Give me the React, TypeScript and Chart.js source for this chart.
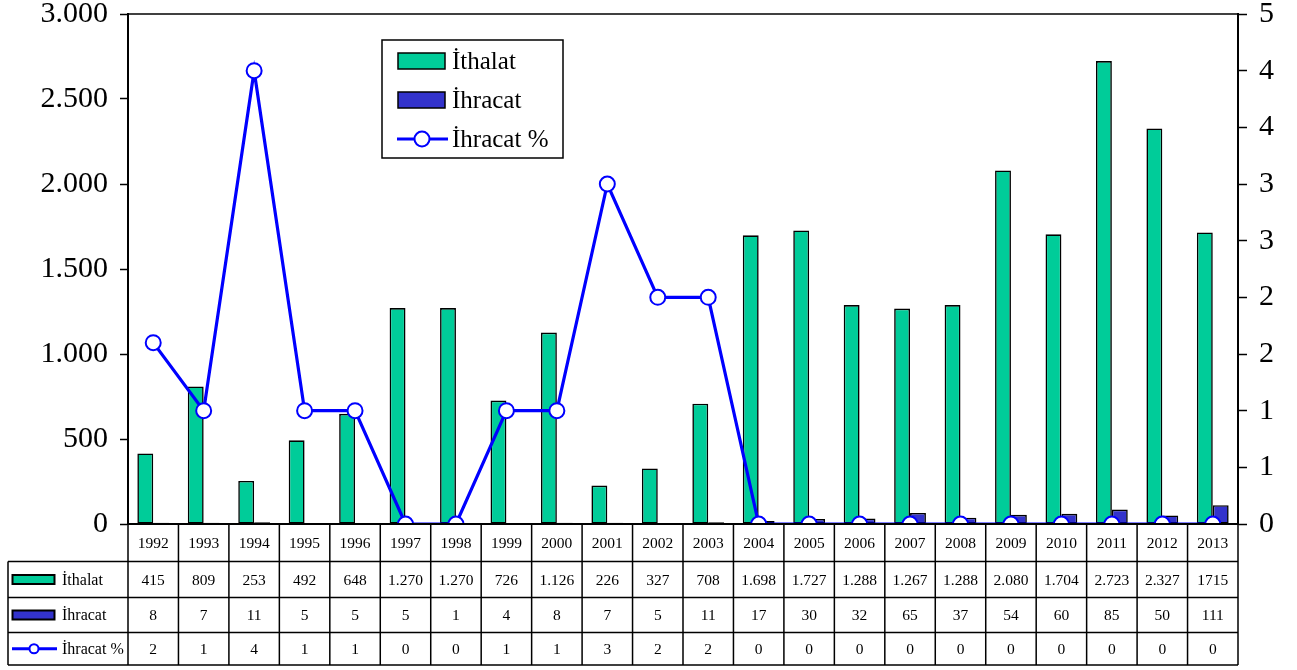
import React, { useEffect, useRef } from "react";
import { Chart, registerables } from "chart.js";

Chart.register(...registerables);

const years = ["1992","1993","1994","1995","1996","1997","1998","1999","2000","2001","2002","2003","2004","2005","2006","2007","2008","2009","2010","2011","2012","2013"];
const ithalat = [415, 809, 253, 492, 648, 1270, 1270, 726, 1126, 226, 327, 708, 1698, 1727, 1288, 1267, 1288, 2080, 1704, 2723, 2327, 1715];
const ihracat = [8, 7, 11, 5, 5, 5, 1, 4, 8, 7, 5, 11, 17, 30, 32, 65, 37, 54, 60, 85, 50, 111];
const ihracatPct = [1.6, 1, 4, 1, 1, 0, 0, 1, 1, 3, 2, 2, 0, 0, 0, 0, 0, 0, 0, 0, 0, 0];
const ithalatLabels = ["415","809","253","492","648","1.270","1.270","726","1.126","226","327","708","1.698","1.727","1.288","1.267","1.288","2.080","1.704","2.723","2.327","1715"];
const ihracatLabels = ["8","7","11","5","5","5","1","4","8","7","5","11","17","30","32","65","37","54","60","85","50","111"];
const pctLabels = ["2","1","4","1","1","0","0","1","1","3","2","2","0","0","0","0","0","0","0","0","0","0"];
const seriesNames = ["İthalat", "İhracat", "İhracat %"];

const GREEN = "#00CC99";
const NAVY = "#3333CC";
const LINE = "#0000FF";
const FONT = "'Liberation Serif', 'Times New Roman', serif";

const fmt = (v: number) => String(Math.round(v)).replace(/\B(?=(\d{3})+(?!\d))/g, ".");

const overlay = {
  id: "overlay",
  afterDraw(chart: any) {
    const ctx = chart.ctx;
    const a = chart.chartArea;
    const n = years.length;
    const w = (a.right - a.left) / n;
    ctx.save();
    ctx.strokeStyle = "#000";
    ctx.lineWidth = 1.5;
    ctx.beginPath();
    ctx.moveTo(a.left, a.top);
    ctx.lineTo(a.right, a.top);
    ctx.stroke();
    ctx.lineWidth = 2;
    ctx.beginPath();
    ctx.moveTo(a.left, a.bottom);
    ctx.lineTo(a.right, a.bottom);
    ctx.stroke();

    const rows = [a.bottom, 561.5, 597.5, 632.5, 665];
    const tl = 8;
    ctx.lineWidth = 1.5;
    ctx.beginPath();
    for (let i = 1; i < rows.length; i++) {
      ctx.moveTo(tl, rows[i]);
      ctx.lineTo(a.right, rows[i]);
    }
    ctx.moveTo(tl, rows[1]);
    ctx.lineTo(tl, rows[4]);
    for (let i = 0; i <= n; i++) {
      const x = a.left + i * w;
      ctx.moveTo(x, a.bottom);
      ctx.lineTo(x, rows[4]);
    }
    ctx.stroke();

    ctx.fillStyle = "#000";
    ctx.font = `15.5px ${FONT}`;
    ctx.textAlign = "center";
    ctx.textBaseline = "middle";
    const rowData = [years, ithalatLabels, ihracatLabels, pctLabels];
    for (let r = 0; r < 4; r++) {
      const cy = (rows[r] + rows[r + 1]) / 2 + 1;
      for (let i = 0; i < n; i++) {
        const cx = a.left + (i + 0.5) * w;
        ctx.fillText(rowData[r][i], cx, cy);
      }
    }
    ctx.textAlign = "left";
    ctx.font = `16px ${FONT}`;
    for (let r = 1; r < 4; r++) {
      const cy = (rows[r] + rows[r + 1]) / 2;
      if (r < 3) {
        ctx.fillStyle = r === 1 ? GREEN : NAVY;
        ctx.fillRect(12.5, cy - 4.5, 42, 9);
        ctx.lineWidth = 2;
        ctx.strokeStyle = "#000";
        ctx.strokeRect(12.5, cy - 4.5, 42, 9);
      } else {
        ctx.strokeStyle = LINE;
        ctx.lineWidth = 3;
        ctx.beginPath();
        ctx.moveTo(12, cy);
        ctx.lineTo(57, cy);
        ctx.stroke();
        ctx.beginPath();
        ctx.arc(34, cy, 4.5, 0, Math.PI * 2);
        ctx.fillStyle = "#fff";
        ctx.fill();
        ctx.lineWidth = 2;
        ctx.stroke();
      }
      ctx.fillStyle = "#000";
      ctx.fillText(seriesNames[r - 1], 62, cy + 1);
    }

    ctx.strokeStyle = "#000";
    ctx.lineWidth = 1.5;
    ctx.fillStyle = "#fff";
    ctx.fillRect(382, 40, 181, 118);
    ctx.strokeRect(382, 40, 181, 118);
    const ly = [61, 100, 139];
    ctx.font = `25px ${FONT}`;
    for (let r = 0; r < 3; r++) {
      const cy = ly[r];
      if (r < 2) {
        ctx.fillStyle = r === 0 ? GREEN : NAVY;
        ctx.fillRect(398, cy - 8, 47, 16);
        ctx.lineWidth = 1.5;
        ctx.strokeStyle = "#000";
        ctx.strokeRect(398, cy - 8, 47, 16);
      } else {
        ctx.strokeStyle = LINE;
        ctx.lineWidth = 3;
        ctx.beginPath();
        ctx.moveTo(397, cy);
        ctx.lineTo(448, cy);
        ctx.stroke();
        ctx.beginPath();
        ctx.arc(422, cy, 7.5, 0, Math.PI * 2);
        ctx.fillStyle = "#fff";
        ctx.fill();
        ctx.lineWidth = 2;
        ctx.stroke();
      }
      ctx.fillStyle = "#000";
      ctx.textAlign = "left";
      ctx.fillText(seriesNames[r], 452, cy + 1);
    }
    ctx.restore();
  },
};

export default function App() {
  const ref = useRef<HTMLCanvasElement>(null);
  useEffect(() => {
    if (!ref.current) return;
    const chart = new Chart(ref.current, {
      type: "bar",
      data: {
        labels: years,
        datasets: [
          {
            type: "line",
            label: seriesNames[2],
            data: ihracatPct,
            yAxisID: "y2",
            borderColor: LINE,
            borderWidth: 3.2,
            pointRadius: 7.5,
            pointBorderWidth: 2,
            pointBackgroundColor: "#fff",
            pointBorderColor: LINE,
            tension: 0,
            order: 0,
          } as any,
          {
            label: seriesNames[0],
            data: ithalat,
            yAxisID: "y",
            backgroundColor: GREEN,
            borderColor: "#000",
            borderWidth: 1.6,
            borderSkipped: false,
            categoryPercentage: 0.63,
            barPercentage: 1.0,
            order: 1,
          },
          {
            label: seriesNames[1],
            data: ihracat,
            yAxisID: "y",
            backgroundColor: NAVY,
            borderColor: "#000",
            borderWidth: 1.6,
            borderSkipped: false,
            categoryPercentage: 0.63,
            barPercentage: 1.0,
            order: 1,
          },
        ],
      },
      options: {
        animation: false,
        responsive: true,
        maintainAspectRatio: false,
        layout: { padding: { top: 14, bottom: 146, left: 0, right: 0 } },
        plugins: { legend: { display: false }, tooltip: { enabled: false } },
        scales: {
          x: { display: false, offset: true, grid: { offset: true } },
          y: {
            position: "left",
            min: 0,
            max: 3000,
            ticks: {
              stepSize: 500,
              color: "#000",
              font: { family: FONT, size: 30 },
              padding: 12,
              callback: (v: any) => fmt(Number(v)),
            },
            grid: { drawOnChartArea: false, drawTicks: true, tickLength: 8, tickColor: "#000", tickWidth: 1.5 },
            border: { display: true, color: "#000", width: 2 },
            afterFit: (s: any) => {
              s.width = 128;
              s.paddingTop = 0;
              s.paddingBottom = 0;
            },
          },
          y2: {
            position: "right",
            min: 0,
            max: 4.5,
            ticks: {
              stepSize: 0.5,
              color: "#000",
              font: { family: FONT, size: 30 },
              padding: 12,
              callback: (v: any) => String(Math.round(Number(v))),
            },
            grid: { drawOnChartArea: false, drawTicks: true, tickLength: 9, tickColor: "#000", tickWidth: 1.5 },
            border: { display: true, color: "#000", width: 2 },
            afterFit: (s: any) => {
              s.width = 59;
              s.paddingTop = 0;
              s.paddingBottom = 0;
            },
          },
        },
      },
      plugins: [overlay],
    });
    return () => chart.destroy();
  }, []);
  return (
    <div style={{ position: "fixed", left: 0, top: 0, width: 1297, height: 670, background: "#fff" }}>
      <canvas ref={ref} />
    </div>
  );
}
